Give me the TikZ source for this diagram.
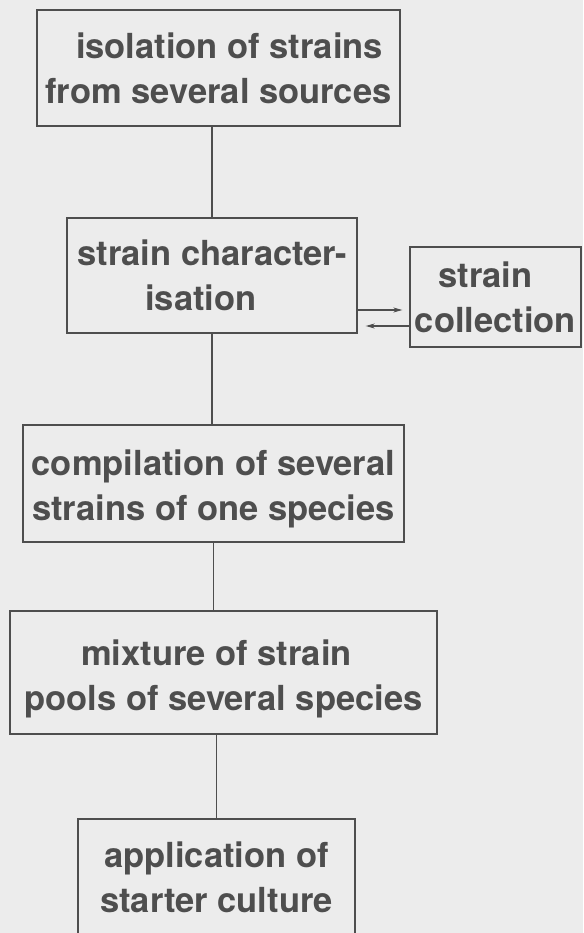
\documentclass[tikz,border=0pt]{standalone}
\usepackage{fontspec}
\setmainfont{TeX Gyre Heros}
\usetikzlibrary{arrows.meta}
\definecolor{paper}{RGB}{236,236,236}
\definecolor{ink}{RGB}{78,78,78}
% two-line label, moved down by #1 without changing its box
\newcommand{\stagetext}[2][0pt]{%
  \raisebox{-#1}[\height][\depth]{\begin{tabular}{@{}c@{}}#2\end{tabular}}}
\tikzset{
  stage/.style={draw=ink, line width=1.4pt, text=ink, inner sep=0pt,
    font=\fontsize{34.5}{45}\selectfont\bfseries},
  link/.style={draw=ink, line width=1.4pt},
  feed/.style={draw=ink, line width=1.1pt, -{Stealth[length=9pt,width=5pt]}}
}
\begin{document}
\begin{tikzpicture}[x=1pt,y=-1pt]
\fill[paper] (0,0) rectangle (583,933);
\useasboundingbox (0,0) rectangle (583,933);
\clip (0,0) rectangle (583,933);

% process stages
\node[stage, minimum width=363pt, minimum height=116pt] (iso) at (218.5,68)
  {\stagetext[4pt]{\hspace*{22pt}isolation of strains\\from several sources}};
\node[stage, minimum width=290pt, minimum height=115pt] (char) at (212,275.5)
  {\stagetext[3pt]{strain character-\\isation\hspace*{22pt}}};
\node[stage, minimum width=171pt, minimum height=100pt] (coll) at (495.5,297)
  {\stagetext[4pt]{strain\hspace*{20pt}\\collection}};
\node[stage, minimum width=381pt, minimum height=117pt] (comp) at (213.5,483.5)
  {\stagetext[5pt]{compilation of several\\strains of one species}};
\node[stage, minimum width=427pt, minimum height=123pt] (mix) at (223.5,672.5)
  {\stagetext[6pt]{mixture of strain\hspace*{14pt}\\pools of several species}};
\node[stage, minimum width=277pt, minimum height=118pt] (app) at (216.5,878)
  {\stagetext[3pt]{application of\\starter culture}};

% vertical links
\draw[link] (char.north) -- (char.north |- iso.south);
\draw[link] (char.south) -- (char.south |- comp.north);
\draw[link] (comp.south) -- (comp.south |- mix.north);
\draw[link] (app.north) -- (app.north |- mix.south);

% exchange with the strain collection
\draw[feed] ([yshift=-34.5pt]char.east) -- ([xshift=-7pt,yshift=-13pt]coll.west);
\draw[feed] ([yshift=-29pt]coll.west) -- ([xshift=8pt,yshift=-50.5pt]char.east);
\end{tikzpicture}
\end{document}
